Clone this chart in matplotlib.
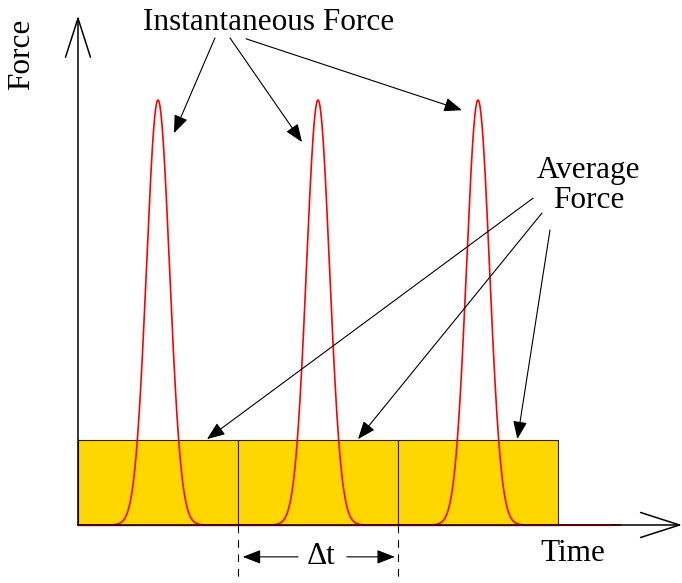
import numpy as np
import matplotlib
matplotlib.use("Agg")
import matplotlib.pyplot as plt

# ---- data (units: x in Δt, y relative to peak force) ----
peak_centers = [0.5, 1.5, 2.5]
peak_height = 1.0
peak_sigma = 0.072
avg_force = 0.2
interval_edges = [0.0, 1.0, 2.0, 3.0]
curve_end = 3.39
x_axis_end = 3.775
y_axis_end = 1.198

inst_label = "Instantaneous Force"
avg_label = "Average\nForce"
inst_text_pos = (1.19, 1.183)
inst_arrows = [((0.856, 1.146), (0.6, 0.922)),
               ((0.95, 1.146), (1.4, 0.901)),
               ((1.05, 1.144), (2.4, 0.976))]
avg_text_pos = (3.19, 0.798)
avg_arrows = [((2.844, 0.769), (0.806, 0.202)),
              ((2.9, 0.734), (1.75, 0.202)),
              ((2.95, 0.694), (2.746, 0.202))]

plt.rcParams['font.family'] = ['Liberation Serif', 'DejaVu Serif']

fig = plt.figure(figsize=(6.82, 5.83), dpi=100)
ax = fig.add_axes([0, 0, 1, 1])
ax.set_xlim(-0.4875, 3.775)
ax.set_ylim(-0.1365, 1.2353)
ax.axis('off')

# average force boxes
widths = np.diff(interval_edges)
ax.bar(interval_edges[:-1], [avg_force] * len(widths), width=widths, align='edge',
       color='#FFD700', edgecolor='#222222', linewidth=0.8, zorder=1)

# instantaneous force pulses
x = np.linspace(0, curve_end, 3000)
y = np.zeros_like(x)
for c in peak_centers:
    y += peak_height * np.exp(-(x - c) ** 2 / (2 * peak_sigma ** 2))
ax.plot(x, y, color='red', lw=1.2, zorder=3)

# axes with open arrowheads
ax.annotate('', xy=(0, y_axis_end), xytext=(0, 0),
            arrowprops=dict(arrowstyle='->,head_length=2.8,head_width=0.9',
                            mutation_scale=10, lw=1.1, color='black',
                            shrinkA=0, shrinkB=0), zorder=4)
ax.annotate('', xy=(x_axis_end, 0), xytext=(0, 0),
            arrowprops=dict(arrowstyle='->,head_length=2.8,head_width=0.9',
                            mutation_scale=10, lw=1.1, color='black',
                            shrinkA=0, shrinkB=0), zorder=4)
ax.plot([0, curve_end * 0.98], [0, 0], color='#8a0000', lw=1.0, zorder=5, alpha=0.6)

# axis labels
ax.text(-0.355, 1.107, 'Force', rotation=90, ha='center', va='center', fontsize=22.5)
ax.text(3.094, -0.068, 'Time', ha='center', va='center', fontsize=22.5)

# Δt marker
for xe in interval_edges[1:3]:
    ax.plot([xe, xe], [0, -0.1365], color='black', lw=0.8,
            linestyle=(0, (7, 6)), zorder=2, clip_on=False)
dt_y = -0.075
ax.text(1.52, dt_y, 'Δt', ha='center', va='center', fontsize=22.5)
head = '-|>,head_length=1.1,head_width=0.43'
ax.annotate('', xy=(1.03, dt_y), xytext=(1.375, dt_y),
            arrowprops=dict(arrowstyle=head, mutation_scale=10, lw=0.8, color='black',
                            shrinkA=0, shrinkB=0))
ax.annotate('', xy=(1.98, dt_y), xytext=(1.68, dt_y),
            arrowprops=dict(arrowstyle=head, mutation_scale=10, lw=0.8, color='black',
                            shrinkA=0, shrinkB=0))

# annotations
ax.text(*inst_text_pos, inst_label, ha='center', va='center', fontsize=22.5)
for start, end in inst_arrows:
    ax.annotate('', xy=end, xytext=start,
                arrowprops=dict(arrowstyle=head, mutation_scale=10, lw=0.8,
                                color='black', shrinkA=0, shrinkB=0), zorder=6)
ax.text(*avg_text_pos, avg_label, ha='center', va='center', fontsize=22.5,
        linespacing=1.05)
for start, end in avg_arrows:
    ax.annotate('', xy=end, xytext=start,
                arrowprops=dict(arrowstyle=head, mutation_scale=10, lw=0.8,
                                color='black', shrinkA=0, shrinkB=0), zorder=6)

fig.savefig('out.png', dpi=100)
